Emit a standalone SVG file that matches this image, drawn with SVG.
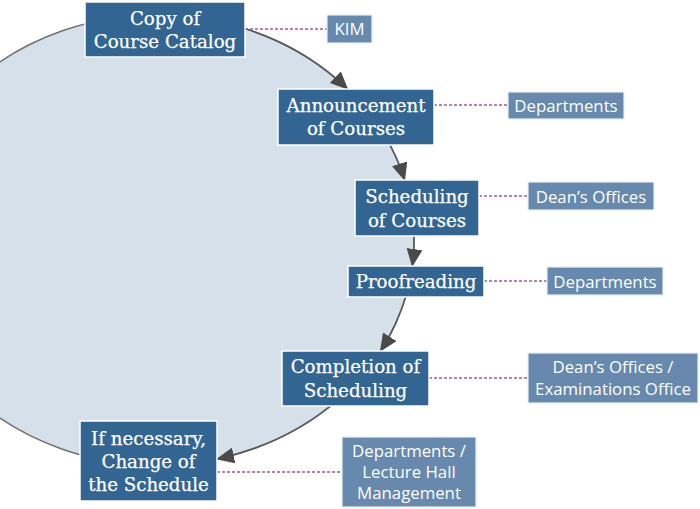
<svg xmlns="http://www.w3.org/2000/svg" width="700" height="509" viewBox="0 0 700 509">
<defs>
<style>
.step rect{fill:#336592;stroke:#ffffff;stroke-width:1.5}
.step text{font-family:"DejaVu Serif",serif;font-size:18.2px;fill:#ffffff;stroke:#ffffff;stroke-width:0.25;text-anchor:middle}
.who rect{fill:#6689ad;stroke:#e8eef5;stroke-width:1.2}
.who text{font-family:"Open Sans","Noto Sans",sans-serif;font-size:16.8px;fill:#ffffff;text-anchor:middle}
.arc{fill:none;stroke:#5a5a5a;stroke-width:1.5;marker-end:url(#ah)}
.dash{fill:none;stroke:#a05c8a;stroke-width:1.3;stroke-dasharray:3 2}
</style>
<marker id="ah" markerUnits="userSpaceOnUse" markerWidth="18" markerHeight="16" viewBox="0 0 18 16" refX="17" refY="8" orient="auto">
<path d="M0,0 L18,8 L0,16 z" fill="#4a4a4a"/>
</marker>
</defs>
<ellipse cx="157" cy="240" rx="257" ry="225" fill="#d5e0ea" stroke="#707070" stroke-width="1.5"/>
<g id="connectors">
<path class="arc" d="M245,28.6 A257,225 0 0 1 347.5,89"/>
<path class="arc" d="M390,145 A257,225 0 0 1 404.7,180"/>
<path class="arc" d="M414,236 A257,225 0 0 1 412.3,266"/>
<path class="arc" d="M405.6,297 A257,225 0 0 1 380.5,351"/>
<path class="arc" d="M330.5,406 A257,225 0 0 1 217,459"/>
<path class="dash" d="M245,29 H327"/>
<path class="dash" d="M434,105 H508"/>
<path class="dash" d="M479,196 H528"/>
<path class="dash" d="M484,281 H547"/>
<path class="dash" d="M429,378 H528"/>
<path class="dash" d="M217,472 H342"/>
</g>
<g id="copy" class="step"><rect x="85" y="2" width="160" height="55"/><text x="165" y="25">Copy of</text><text x="165" y="48">Course Catalog</text></g>
<g id="announce" class="step"><rect x="278" y="89" width="156" height="56"/><text x="356" y="112">Announcement</text><text x="356" y="135">of Courses</text></g>
<g id="schedule" class="step"><rect x="355" y="180" width="124" height="56"/><text x="417" y="203">Scheduling</text><text x="417" y="227">of Courses</text></g>
<g id="proof" class="step"><rect x="348" y="266" width="136" height="31"/><text x="416" y="288">Proofreading</text></g>
<g id="complete" class="step"><rect x="282" y="351" width="147" height="55"/><text x="355.5" y="373">Completion of</text><text x="355.5" y="397">Scheduling</text></g>
<g id="change" class="step"><rect x="80" y="421" width="137" height="80"/><text x="148.5" y="445">If necessary,</text><text x="148.5" y="468">Change of</text><text x="148.5" y="491">the Schedule</text></g>
<g id="kim" class="who"><rect x="327" y="15" width="45" height="28"/><text x="349.5" y="35">KIM</text></g>
<g id="dept1" class="who"><rect x="508" y="92" width="116" height="27"/><text x="566" y="112">Departments</text></g>
<g id="dean1" class="who"><rect x="528" y="182" width="126" height="28"/><text x="591" y="203">Dean’s Offices</text></g>
<g id="dept2" class="who"><rect x="547" y="267" width="116" height="28"/><text x="605" y="288">Departments</text></g>
<g id="dean2" class="who"><rect x="528" y="353" width="170" height="50"/><text x="613" y="373">Dean’s Offices /</text><text x="613" y="395">Examinations Office</text></g>
<g id="dept3" class="who"><rect x="342" y="437" width="134" height="70"/><text x="409" y="457">Departments /</text><text x="409" y="478">Lecture Hall</text><text x="409" y="499">Management</text></g>
</svg>
